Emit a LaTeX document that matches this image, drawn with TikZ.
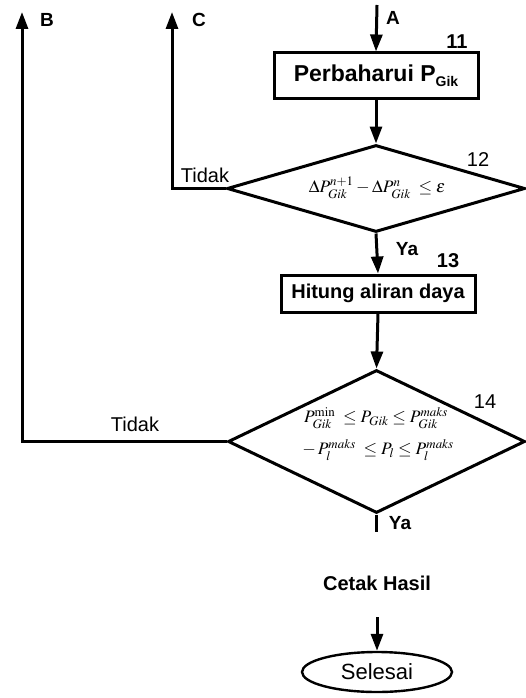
\documentclass[tikz,border=0pt]{standalone}
\usepackage{mathptmx}
\usepackage[no-math]{fontspec}
\setmainfont{Liberation Sans}
\usetikzlibrary{arrows.meta,shapes.geometric}
\tikzset{
  proc/.style={draw, rectangle, line width=3pt, inner sep=0pt, font=\fontsize{20}{22}\selectfont\bfseries},
  dec/.style={draw, diamond, line width=3pt, inner sep=0pt},
  term/.style={draw, ellipse, line width=2.4pt, inner sep=0pt, font=\fontsize{22}{24}\selectfont},
  lbl/.style={font=\fontsize{20}{22}\selectfont, inner sep=0pt},
  blbl/.style={font=\fontsize{19}{21}\selectfont\bfseries, inner sep=0pt},
  frm/.style={font=\fontsize{17.5}{19}\selectfont, inner sep=0pt},
  flow/.style={line width=3pt, -{Triangle[length=17pt,width=12pt]}},
  plain/.style={line width=3pt}
}
\begin{document}
\begin{tikzpicture}[x=1pt,y=-1pt]
\useasboundingbox[fill=white] (0,0) rectangle (526,698);
% nodes
\node[proc, minimum width=204pt, minimum height=46pt, font=\fontsize{23}{25}\selectfont\bfseries] (p11) at (376,76)
  {Perbaharui P\raisebox{-0.45ex}{\fontsize{14}{14}\selectfont Gik}};
\node[dec, minimum width=298pt, minimum height=87pt] (d12) at (376,188.5) {};
\node[frm] (f12) at (377,188) {$\Delta P_{Gik}^{n+1}-\Delta P_{Gik}^{n}\;\le\varepsilon$};
\node[proc, minimum width=194pt, minimum height=37pt] (p13) at (378,293.5) {Hitung aliran daya};
\node[dec, minimum width=297pt, minimum height=143pt] (d14) at (376.5,441.5) {};
\node[frm] (f14a) at (376,418) {$P_{Gik}^{\min}\;\le P_{Gik}\le P_{Gik}^{maks}$};
\node[frm] (f14b) at (378,450) {$-\,P_{l}^{maks}\;\le P_{l}\le P_{l}^{maks}$};
\node[font=\fontsize{20}{22}\selectfont\bfseries, inner sep=0pt] (cetak) at (377,583) {Cetak Hasil};
\node[term, minimum width=150pt, minimum height=40pt] (sel) at (377,672) {Selesai};
% free ends
\coordinate (aTop) at (377,5);
\coordinate (bTop) at (22,12);
\coordinate (cTop) at (172,12);
\coordinate (yaEnd) at (376.5,532);
\coordinate (cOut) at (377,617);
% connectors
\draw[flow] (aTop) -- (p11.north);
\draw[flow] (p11.south) -- (d12.north);
\draw[flow] (d12.south) -- (p13.north);
\draw[flow] (p13.south) -- (d14.north);
\draw[plain] (d14.south) -- (yaEnd);
\draw[flow] (cOut) -- (sel.north);
\draw[flow] (d12.west) -| (cTop);
\draw[flow] (d14.west) -| (bTop);
% labels
\node[blbl] (la) at (393,18) {A};
\node[blbl] (lb) at (47,20) {B};
\node[blbl] (lc) at (199,20) {C};
\node[lbl, font=\fontsize{20}{22}\selectfont\bfseries] (n11) at (457,42) {11};
\node[lbl] (n12) at (478,160) {12};
\node[lbl, font=\fontsize{20}{22}\selectfont\bfseries] (n13) at (448,261) {13};
\node[lbl] (n14) at (485,402) {14};
\node[lbl] (t1) at (205,175) {Tidak};
\node[lbl] (t2) at (135,424) {Tidak};
\node[blbl] (y1) at (407,249) {Ya};
\node[blbl] (y2) at (400,523) {Ya};
\end{tikzpicture}
\end{document}
